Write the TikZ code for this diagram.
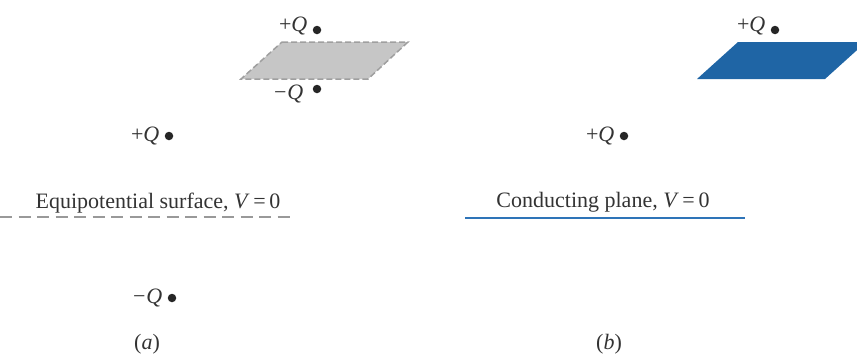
\documentclass[tikz,border=0pt]{standalone}
\usepackage{fontspec}
\setmainfont{Liberation Serif}
\usetikzlibrary{positioning}

\definecolor{platebl}{HTML}{1F65A5}
\definecolor{linebl}{HTML}{2E74B8}

\begin{document}
\begin{tikzpicture}[x=1pt,y=-1pt,node distance=5pt,
  font=\fontsize{22}{26}\selectfont]
  \tikzstyle{charge}=[circle,fill=black!85,inner sep=0pt,minimum size=8.5pt]
  \tikzstyle{qlabel}=[inner sep=0pt,text=black!80]
  \tikzstyle{caption}=[inner sep=0pt,text=black!80]
  \useasboundingbox (0,0) rectangle (857,354);
  \clip (0,0) rectangle (857,354);
  % (a) image charges
  \fill[gray!45] (282,42) -- (408,42) -- (368,79) -- (241,79) -- cycle;
  \draw[gray!75,dashed,line width=1.5pt,dash pattern=on 6pt off 3pt] (282,42) -- (408,42) -- (368,79) -- (241,79) -- cycle;
  \node[charge] (qaup) at (317,30) {};
  \node[qlabel,left=of qaup,yshift=4pt] (laup) {+\textit{Q}};
  \node[charge] (qadn) at (317,89) {};
  \node[qlabel,left=9pt of qadn,yshift=-5pt] (ladn) {−\kern1pt\textit{Q}};
  \node[charge] (qatop) at (169,136) {};
  \node[qlabel,left=of qatop] (latop) {+\textit{Q}};
  \node[charge] (qabot) at (172,298) {};
  \node[qlabel,left=of qabot] (labot) {−\kern1pt\textit{Q}};
  \node[caption] (capa) at (158,203) {Equipotential surface, \textit{V}\,=\,0};
  \draw[gray!80,line width=1.8pt,dash pattern=on 12pt off 6.5pt] (0,217) -- (290,217);
  \node[caption] (taga) at (147,344) {(\textit{a})};
  % (b) conducting plane
  \fill[platebl] (738,42) -- (866,42) -- (825,79) -- (697,79) -- cycle;
  \node[charge] (qbup) at (775,30) {};
  \node[qlabel,left=of qbup,yshift=4pt] (lbup) {+\textit{Q}};
  \node[charge] (qbtop) at (624,136) {};
  \node[qlabel,left=of qbtop] (lbtop) {+\textit{Q}};
  \node[caption] (capb) at (603,202) {Conducting plane, \textit{V}\,=\,0};
  \draw[linebl,line width=2pt] (465,218) -- (745,218);
  \node[caption] (tagb) at (609,344) {(\textit{b})};
\end{tikzpicture}
\end{document}
